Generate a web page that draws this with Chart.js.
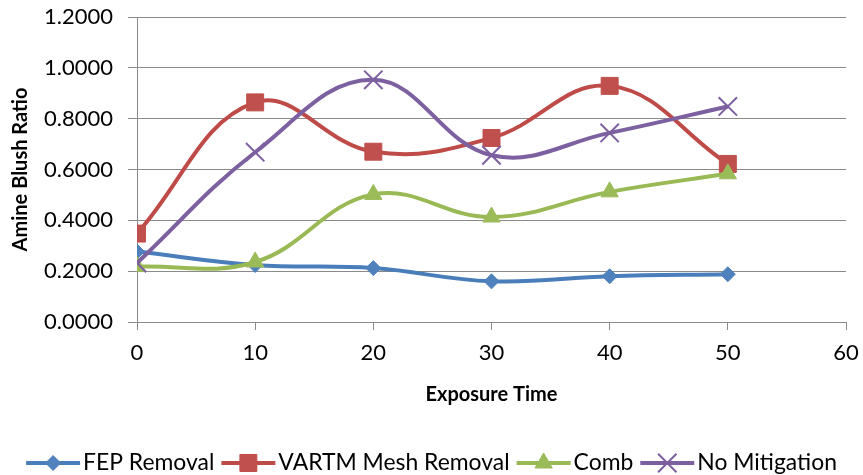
<!DOCTYPE html>
<html>
<head>
<meta charset="utf-8">
<script src="https://cdn.jsdelivr.net/npm/chart.js@4.4.0/dist/chart.umd.min.js"></script>
<style>
  html, body { margin: 0; padding: 0; background: #fff; }
</style>
</head>
<body>
<canvas id="chart" width="863" height="475"></canvas>
<script>
// values
const exposureTimes = [0, 10, 20, 30, 40, 50];
const fepRemoval = [0.277, 0.224, 0.212, 0.160, 0.180, 0.188];
const vartmMeshRemoval = [0.348, 0.864, 0.670, 0.724, 0.929, 0.622];
const comb = [0.218, 0.236, 0.502, 0.413, 0.512, 0.583];
const noMitigation = [0.232, 0.668, 0.953, 0.656, 0.744, 0.848];

const seriesNames = ['FEP Removal', 'VARTM Mesh Removal', 'Comb', 'No Mitigation'];
const xAxisMin = 0, xAxisMax = 60, xAxisStep = 10;
const yAxisMin = 0, yAxisMax = 1.2, yAxisStep = 0.2;

const FONT = 'Lato, "Open Sans", sans-serif';
const GRID = '#8a8a8a';

function toPoints(values) {
    return exposureTimes.map((x, i) => ({ x: x, y: values[i] }));
}

const seriesStyles = [
    { line: '#4a7ebb', fill: '#4f81bd', marker: 'rectRot', radius: 7.5 },
    { line: '#be4b48', fill: '#c0504d', marker: 'rect', radius: 12 },
    { line: '#98b954', fill: '#9bbb59', marker: 'triangle', radius: 10 },
    { line: '#7d60a0', fill: '#7d60a0', marker: 'crossRot', radius: 13 }
];

const seriesValues = [fepRemoval, vartmMeshRemoval, comb, noMitigation];

const datasets = seriesValues.map((values, i) => {
    const s = seriesStyles[i];
    return {
        label: seriesNames[i],
        data: toPoints(values),
        borderColor: s.line,
        borderWidth: 4,
        tension: 0.4,
        pointStyle: s.marker,
        pointRadius: s.radius,
        pointBackgroundColor: s.fill,
        pointBorderColor: s.marker === 'crossRot' ? s.line : s.fill,
        pointBorderWidth: s.marker === 'crossRot' ? 2 : 1,
        order: 4 - i  // later series drawn on top, like Excel
    };
});

function drawMarker(ctx, style, r, x, y) {
    ctx.beginPath();
    if (style === 'rectRot') {
        ctx.moveTo(x, y - r); ctx.lineTo(x + r, y); ctx.lineTo(x, y + r); ctx.lineTo(x - r, y);
        ctx.closePath(); ctx.fill(); ctx.stroke();
    } else if (style === 'rect') {
        const h = r * Math.SQRT1_2;
        ctx.rect(x - h, y - h, 2 * h, 2 * h); ctx.fill(); ctx.stroke();
    } else if (style === 'triangle') {
        ctx.moveTo(x, y - r);
        ctx.lineTo(x + r * 0.866, y + r * 0.5);
        ctx.lineTo(x - r * 0.866, y + r * 0.5);
        ctx.closePath(); ctx.fill(); ctx.stroke();
    } else {
        const h = r * Math.SQRT1_2;
        ctx.moveTo(x - h, y - h); ctx.lineTo(x + h, y + h);
        ctx.moveTo(x + h, y - h); ctx.lineTo(x - h, y + h);
        ctx.stroke();
    }
}

// Excel style legend: line with the marker in its middle, centred under the chart
const excelLegend = {
    id: 'excelLegend',
    afterDraw(chart) {
        const ctx = chart.ctx;
        const lineLen = 54, textGap = 3, itemGap = 7, y = 463;
        ctx.save();
        ctx.font = '22.9px ' + FONT;
        ctx.textBaseline = 'middle';
        ctx.textAlign = 'left';
        const widths = seriesNames.map(n => ctx.measureText(n).width);
        let total = 0;
        widths.forEach(w => { total += lineLen + textGap + w; });
        total += itemGap * (seriesNames.length - 1);
        let x = (chart.width - total) / 2;
        seriesNames.forEach((name, i) => {
            const s = seriesStyles[i];
            ctx.strokeStyle = s.line;
            ctx.lineWidth = 4;
            ctx.beginPath();
            ctx.moveTo(x, y);
            ctx.lineTo(x + lineLen, y);
            ctx.stroke();
            ctx.fillStyle = s.fill;
            ctx.strokeStyle = s.marker === 'crossRot' ? s.line : s.fill;
            ctx.lineWidth = s.marker === 'crossRot' ? 2 : 1;
            drawMarker(ctx, s.marker, s.radius, x + lineLen / 2, y);
            x += lineLen + textGap;
            ctx.fillStyle = '#000';
            ctx.fillText(name, x, y);
            x += widths[i] + itemGap;
        });
        ctx.restore();
    }
};

new Chart(document.getElementById('chart'), {
    type: 'line',
    data: { datasets: datasets },
    options: {
        responsive: false,
        animation: false,
        layout: { padding: { left: 0, right: 17, top: 17, bottom: 60 } },
        plugins: {
            legend: { display: false },
            tooltip: { enabled: false }
        },
        scales: {
            x: {
                type: 'linear',
                min: xAxisMin,
                max: xAxisMax,
                ticks: { stepSize: xAxisStep, color: '#000', font: { family: FONT, size: 22 }, padding: 10 },
                grid: { drawOnChartArea: false, drawTicks: true, tickLength: 8, color: GRID },
                border: { color: GRID },
                title: {
                    display: true,
                    text: 'Exposure Time',
                    color: '#000',
                    font: { family: FONT, size: 20, weight: 'bold' },
                    padding: { top: 0, bottom: 8 }
                },
                afterFit(scale) {
                    scale.height = 93;
                    scale.paddingLeft = 0;
                    scale.paddingRight = 0;
                }
            },
            y: {
                min: yAxisMin,
                max: yAxisMax,
                ticks: {
                    stepSize: yAxisStep,
                    color: '#000',
                    font: { family: FONT, size: 22 },
                    padding: 15,
                    callback: v => v.toFixed(4)
                },
                grid: { color: GRID, tickLength: 9 },
                border: { color: GRID },
                title: {
                    display: true,
                    text: 'Amine Blush Ratio',
                    color: '#000',
                    font: { family: FONT, size: 20, weight: 'bold' },
                    padding: { top: 9, bottom: 0 }
                },
                afterFit(scale) {
                    scale.width = 137;
                    scale.paddingTop = 0;
                    scale.paddingBottom = 0;
                }
            }
        }
    },
    plugins: [excelLegend]
});
</script>
</body>
</html>
